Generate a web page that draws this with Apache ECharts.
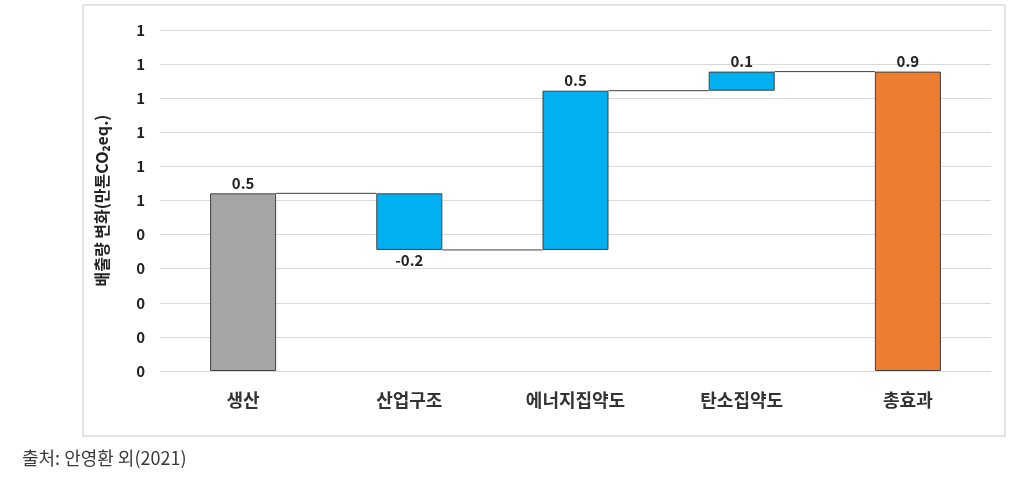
<!DOCTYPE html>
<html><head><meta charset="utf-8">
<script src="https://cdn.jsdelivr.net/npm/echarts@6/dist/echarts.min.js"></script>
<style>html,body{margin:0;padding:0;background:#fff}#c{width:1026px;height:484px}</style>
</head><body><div id="c"></div>
<script>
const categories = ['생산', '산업구조', '에너지집약도', '탄소집약도', '총효과'];
const changes = [0.521, -0.166, 0.467, 0.056, 0.878];
const isTotal = [false, false, false, false, true];
const barColors = ['#a5a5a5', '#00b0f0', '#00b0f0', '#00b0f0', '#ed7d31'];
const yTickLabels = ['0', '0', '0', '0', '0', '1', '1', '1', '1', '1', '1'];
const yAxisName = '배출량 변화(만톤CO₂eq.)';
const sourceText = '출처: 안영환 외(2021)';

const font = '"Noto Sans CJK KR", "Noto Sans", sans-serif';
// waterfall bases
const base = [], visible = [], levels = [];
let cum = 0;
categories.forEach((c, i) => {
  if (isTotal[i]) {
    base.push(0); visible.push(changes[i]); levels.push(changes[i]);
  } else {
    const start = cum, end = cum + changes[i];
    base.push(Math.min(start, end));
    visible.push(Math.abs(changes[i]));
    cum = end; levels.push(end);
  }
});

const chart = echarts.init(document.getElementById('c'));
chart.setOption({
  animation: false,
  textStyle: { fontFamily: font },
  grid: { left: 160, right: 35, top: 30, bottom: 113 },
  graphic: [
    { type: 'rect', shape: { x: 83, y: 5, width: 922, height: 431 },
      style: { fill: 'none', stroke: '#c8c8c8', lineWidth: 1 }, z: -10 },
    { type: 'text', left: 22, top: 449,
      style: { text: sourceText, fontSize: 18, fill: '#3a3a3a', fontFamily: font } }
  ],
  xAxis: {
    type: 'category', data: categories,
    axisLine: { show: false }, axisTick: { show: false },
    axisLabel: { fontSize: 18, fontWeight: 'bold', color: '#333', margin: 20 }
  },
  yAxis: {
    type: 'value', min: 0, max: 1, interval: 0.1,
    name: yAxisName, nameLocation: 'middle', nameGap: 50, nameRotate: 90,
    nameTextStyle: { fontSize: 16, fontWeight: 'bold', color: '#222' },
    axisLine: { show: false }, axisTick: { show: false },
    axisLabel: { fontSize: 15, fontWeight: 'bold', color: '#222', margin: 15,
      formatter: (v, i) => yTickLabels[i] },
    splitLine: { lineStyle: { color: '#d9d9d9', width: 1 } }
  },
  series: [
    { type: 'bar', stack: 'w', data: base, barWidth: 66,
      itemStyle: { color: 'rgba(0,0,0,0)' }, silent: true },
    { type: 'bar', stack: 'w', barWidth: 66,
      data: visible.map((v, i) => ({ value: v, itemStyle: { color: barColors[i] },
        label: { position: changes[i] < 0 ? 'bottom' : 'top' } })),
      itemStyle: { borderColor: '#404040', borderWidth: 1 },
      label: { show: true, fontSize: 15, fontWeight: 'bold', color: '#222', distance: 3,
        formatter: p => changes[p.dataIndex].toFixed(1) } },
    { type: 'custom', z: 1,
      data: levels.slice(0, -1).map((l, i) => [i, l]),
      renderItem: (params, api) => {
        const i = api.value(0), l = api.value(1);
        const p1 = api.coord([i, l]), p2 = api.coord([i + 1, l]);
        return { type: 'line', shape: { x1: p1[0] + 33, y1: p1[1], x2: p2[0] - 33, y2: p2[1] },
          style: { stroke: '#404040', lineWidth: 1 } };
      } }
  ]
});
</script></body></html>
